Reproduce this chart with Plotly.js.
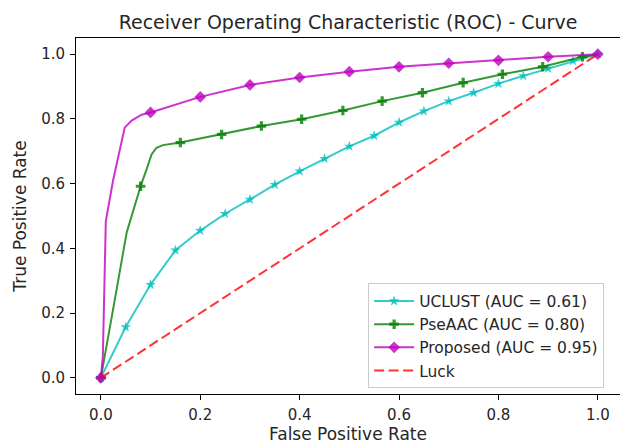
<!DOCTYPE html>
<html>
<head>
<meta charset="utf-8">
<script src="https://cdn.plot.ly/plotly-3.0.1.min.js"></script>
<style>html,body{margin:0;padding:0;background:#fff}#chart{width:620px;height:444px}</style>
</head>
<body>
<div id="chart"></div>
<script>
// ---- data ----
const uclustFpr = [0, 0.05, 0.10, 0.15, 0.20, 0.25, 0.30, 0.35, 0.40, 0.45, 0.50, 0.55, 0.60, 0.65, 0.70, 0.75, 0.80, 0.85, 0.90, 0.95, 1.0];
const uclustTpr = [0, 0.157, 0.288, 0.394, 0.455, 0.507, 0.551, 0.597, 0.638, 0.677, 0.715, 0.748, 0.789, 0.824, 0.855, 0.881, 0.909, 0.933, 0.956, 0.979, 1.0];
const uclustMarkIdx = [0, 1, 2, 3, 4, 5, 6, 7, 8, 9, 10, 11, 12, 13, 14, 15, 16, 17, 18, 19, 20];

const pseaacFpr = [0, 0.008, 0.028, 0.052, 0.072, 0.080, 0.092, 0.102, 0.112, 0.125, 0.160, 0.243, 0.323, 0.404, 0.487, 0.566, 0.647, 0.729, 0.808, 0.889, 0.969, 1.0];
const pseaacTpr = [0, 0.066, 0.241, 0.449, 0.551, 0.592, 0.644, 0.690, 0.711, 0.719, 0.727, 0.752, 0.778, 0.799, 0.826, 0.855, 0.881, 0.912, 0.938, 0.961, 0.992, 1.0];
const pseaacMarkIdx = [0, 5, 10, 11, 12, 13, 14, 15, 16, 17, 18, 19, 20];

const proposedFpr = [0, 0.004, 0.010, 0.018, 0.025, 0.048, 0.062, 0.082, 0.10, 0.20, 0.30, 0.40, 0.50, 0.60, 0.70, 0.80, 0.90, 1.0];
const proposedTpr = [0, 0.066, 0.484, 0.551, 0.613, 0.773, 0.795, 0.813, 0.820, 0.868, 0.905, 0.928, 0.946, 0.961, 0.972, 0.981, 0.992, 1.0];
const proposedMarkIdx = [0, 8, 9, 10, 11, 12, 13, 14, 15, 16, 17];

const luckFpr = [0, 1];
const luckTpr = [0, 1];

const seriesNames = ['UCLUST (AUC = 0.61)', 'PseAAC (AUC = 0.80)', 'Proposed (AUC = 0.95)', 'Luck'];
const xTicks = [0, 0.2, 0.4, 0.6, 0.8, 1.0];
const yTicks = [0, 0.2, 0.4, 0.6, 0.8, 1.0];

// ---- drawing ----
const FONT = 'DejaVu Sans, sans-serif';
const TXT = '#262626';
function markColors(n, idx, col) {
  const out = [];
  for (let i = 0; i < n; i++) out.push(idx.indexOf(i) >= 0 ? col : 'rgba(0,0,0,0)');
  return out;
}
const cC = 'rgba(0,191,191,0.8)', gC = 'rgba(0,128,0,0.8)', mC = 'rgba(191,0,191,0.8)', rC = 'rgba(255,0,0,0.8)';

const traces = [
  {x: uclustFpr, y: uclustTpr, name: seriesNames[0], mode: 'lines+markers',
   line: {color: cC, width: 2},
   marker: {symbol: 'star', size: 8, color: markColors(uclustFpr.length, uclustMarkIdx, cC), line: {width: 0}}},
  {x: pseaacFpr, y: pseaacTpr, name: seriesNames[1], mode: 'lines+markers',
   line: {color: gC, width: 2},
   marker: {symbol: 'cross', size: 8, color: markColors(pseaacFpr.length, pseaacMarkIdx, gC), line: {width: 0}}},
  {x: proposedFpr, y: proposedTpr, name: seriesNames[2], mode: 'lines+markers',
   line: {color: mC, width: 2},
   marker: {symbol: 'diamond', size: 9, color: markColors(proposedFpr.length, proposedMarkIdx, mC), line: {width: 0}}},
  {x: luckFpr, y: luckTpr, name: seriesNames[3], mode: 'lines',
   line: {color: rC, width: 2, dash: '10px,4.5px'}}
];

const axisCommon = {
  showgrid: false, zeroline: false, showline: true, linecolor: '#000', linewidth: 1,
  ticks: 'outside', ticklen: 5, tickwidth: 1, tickcolor: '#000', ticklabelstandoff: 2,
  tickfont: {family: FONT, size: 15, color: TXT}, tickformat: '.1f', automargin: false
};

const layout = {
  width: 620, height: 444,
  margin: {l: 76, r: 0, t: 38, b: 50, pad: 0},
  paper_bgcolor: '#fff', plot_bgcolor: '#fff',
  font: {family: FONT, size: 14, color: TXT},
  title: {text: 'Receiver Operating Characteristic (ROC) - Curve', font: {family: FONT, size: 19, color: TXT},
          x: 0.5, xref: 'paper', xanchor: 'center', y: 1 - 22 / 444, yref: 'container', yanchor: 'middle'},
  xaxis: Object.assign({}, axisCommon, {range: [-0.05, 1.0446], tickvals: xTicks, mirror: true,
          title: {text: 'False Positive Rate', font: {family: FONT, size: 17, color: TXT}, standoff: 13}}),
  yaxis: Object.assign({}, axisCommon, {range: [-0.05, 1.05], tickvals: yTicks, mirror: false,
          title: {text: 'True Positive Rate', font: {family: FONT, size: 17, color: TXT}, standoff: 10}}),
  showlegend: true,
  legend: {x: 0.537, y: 0.3104, xanchor: 'left', yanchor: 'top', xref: 'paper', yref: 'paper',
           bgcolor: 'rgba(255,255,255,0.8)', bordercolor: '#cccccc', borderwidth: 1, itemwidth: 40,
           font: {family: FONT, size: 15.5, color: TXT}, traceorder: 'normal'}
};

Plotly.newPlot('chart', traces, layout, {displayModeBar: false, staticPlot: true});
</script>
</body>
</html>
